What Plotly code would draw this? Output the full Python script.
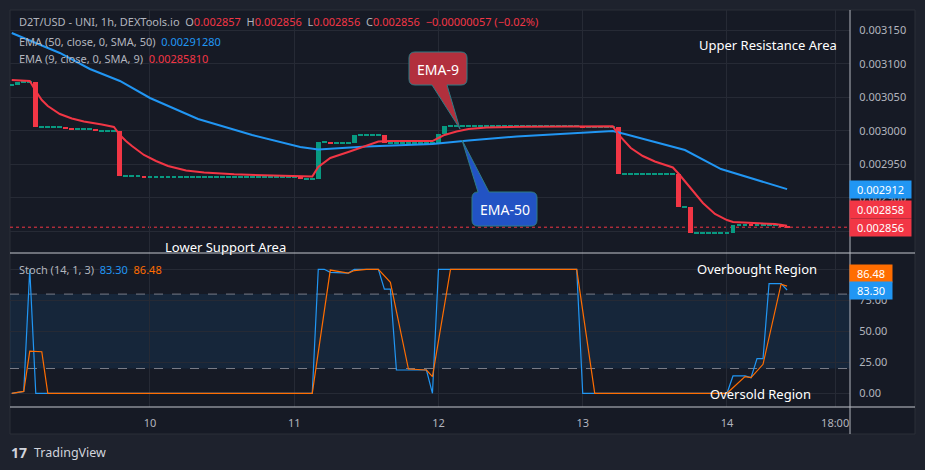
import plotly.graph_objects as go

# ---------------- data ----------------
# hour offsets are relative to day "10" 00:00, 1h candles
CANDLE_FIRST_HOUR = -23
FIRST_OPEN = 0.003068
CLOSE = [
    0.003068, 0.003073, 0.003073, 0.003073, 0.003005, 0.003005, 0.003005, 0.003005, 0.003005, 0.003003, 0.003002, 0.003002,  # -23..-12
    0.003002, 0.003002, 0.002999, 0.002999, 0.002999, 0.002999, 0.002932, 0.002932, 0.002932, 0.002932, 0.002931, 0.002931,  # -11..0
    0.002931, 0.002931, 0.002931, 0.002931, 0.002931, 0.002931, 0.002931, 0.002931, 0.002931, 0.002931, 0.002931, 0.002931,  # 1..12
    0.002931, 0.002931, 0.002931, 0.002931, 0.002931, 0.002931, 0.002931, 0.002931, 0.002931, 0.002931, 0.002931, 0.002931,  # 13..24
    0.002928, 0.002928, 0.002928, 0.002983, 0.002983, 0.002981, 0.002981, 0.002981, 0.002981, 0.002994, 0.002994, 0.002994,  # 25..36
    0.002994, 0.002994, 0.002981, 0.002981, 0.002981, 0.002981, 0.002981, 0.002981, 0.002981, 0.002981, 0.002981, 0.002995,  # 37..48
    0.003007, 0.003007, 0.003007, 0.003007, 0.003007, 0.003007, 0.003007, 0.003007, 0.003007, 0.003007, 0.003007, 0.003007,  # 49..60
    0.003007, 0.003007, 0.003007, 0.003007, 0.003007, 0.003007, 0.003007, 0.003007, 0.003007, 0.003007, 0.003007, 0.003005,  # 61..72
    0.003005, 0.003005, 0.003005, 0.003005, 0.003005, 0.002935, 0.002935, 0.002935, 0.002935, 0.002935, 0.002935, 0.002935,  # 73..84
    0.002935, 0.002935, 0.002935, 0.002886, 0.002886, 0.002847, 0.002847, 0.002847, 0.002847, 0.002847, 0.002847, 0.002847,  # 85..96
    0.002860, 0.002860, 0.002860, 0.002859, 0.002859, 0.002859, 0.002859, 0.002859, 0.002857, 0.002856,                      # 97..106
]

EMA9_H = [-23, -20, -19, -18, -17, -15, -13, -11, -8, -6, -5, -4, -3, -1, 1, 3, 6, 9, 14, 19, 25, 27,
          28, 30, 33, 36, 38, 40, 47, 48, 49, 51, 53, 56, 62, 77, 78, 80, 82, 84, 87, 88, 89, 90, 92, 94,
          96, 97, 100, 104, 106]
EMA9_V = [0.0030757, 0.0030742, 0.0030593, 0.0030458, 0.0030369, 0.0030249, 0.0030182, 0.0030137,
          0.0030093, 0.0030055, 0.0029936, 0.0029846, 0.0029772, 0.0029637, 0.0029548, 0.0029473,
          0.0029406, 0.0029376, 0.0029349, 0.0029339, 0.0029327, 0.0029316,
          0.0029458, 0.0029593, 0.0029682, 0.0029772, 0.0029839, 0.0029846, 0.0029846, 0.0029891,
          0.0029936, 0.0029988, 0.0030025, 0.0030048, 0.0030058, 0.0030067, 0.0029936, 0.0029742,
          0.0029622, 0.0029540, 0.0029451, 0.0029354, 0.0029249, 0.0029145, 0.0028921, 0.0028757,
          0.0028667, 0.0028637, 0.0028622, 0.0028607, 0.0028581]

EMA50_H = [-23, -19, -15, -10, -5, 0, 8, 17, 25, 28, 36, 47, 53, 61, 72, 77, 79, 86, 89, 95, 106]
EMA50_V = [0.0031458, 0.0031309, 0.0031160, 0.0030921, 0.0030742, 0.0030488, 0.0030175, 0.0029936,
           0.0029757, 0.0029720, 0.0029764, 0.0029801, 0.0029854, 0.0029913, 0.0029973, 0.0029996,
           0.0029951, 0.0029787, 0.0029712, 0.0029428, 0.0029128]

STOCH_K_H = [-23, -21, -20, -19, 27, 28, 29, 30, 33, 34, 38, 39, 40, 41, 46, 47, 48, 71, 72,
             96, 97, 99, 100, 101, 102, 103, 105, 106]
STOCH_K_V = [0, 1.5, 100, 0, 0, 100, 100, 97.5, 97, 100, 100, 84, 84, 18.8, 18.8, 0, 100, 100, 0,
             0, 14, 14, 12.6, 28, 28, 88.4, 88.4, 83.30]
STOCH_D_H = [-23, -21, -20, -18, -17, 27, 30, 33, 34, 36, 38, 40, 43, 46, 47, 50, 71, 74,
             96, 99, 100, 102, 105, 106]
STOCH_D_V = [0, 1.5, 34, 33.5, 0, 0, 99.4, 97, 99, 100, 100, 89.5, 19.6, 18.8, 13.4, 100, 100, 0,
             0, 13.4, 12.6, 23.4, 88, 86.48]

X_TICK_H = [0, 24, 48, 72, 96, 114]
X_TICK_TEXT = ["10", "11", "12", "13", "14", "18:00"]
PRICE_TICKS = [0.00285, 0.00290, 0.00295, 0.00300, 0.00305, 0.00310, 0.00315]
PRICE_TICK_TEXT = ["", "0.002900", "0.002950", "0.003000", "0.003050", "0.003100", "0.003150"]  # 0.002850 hidden by tags
STOCH_TICKS = [0, 25, 50, 75, 100]
STOCH_TICK_TEXT = ["0.00", "25.00", "50.00", "75.00", ""]  # 100.00 hidden by tag
STOCH_BANDS = [20, 80]
LAST_PRICE = 0.002856
PREV_TAG = 0.002858
EMA50_LAST = 0.0029128
EMA50_TAG = "0.002912"
K_LAST = 83.30
D_LAST = 86.48

# ---------------- styling / geometry ----------------
W, H = 925, 470
ML, MR, MT, MB = 10, 75, 10, 63
PW, PH = W - ML - MR, H - MT - MB
SPLIT = (H - MB - 253) / PH
X_RANGE = [-23.29, 116.47]
Y_RANGE = [0.0028175, 0.0031801]
Y2_RANGE = [-11.05, 113.15]

BG_OUT = "#1e222d"
BG_IN = "#161a25"
GRID = "#262a35"
TXT = "#b2b5be"
GREEN = "#089981"
RED = "#f23645"
BLUE = "#2196f3"
ORANGE = "#ff6d00"
FONT = "Noto Sans, sans-serif"


def pxx(px):
    return (px - ML) / PW


def pyy(py):
    return (H - MB - py) / PH


def dx(px):  # pixel x -> hour value
    return X_RANGE[0] + (px - ML) / PW * (X_RANGE[1] - X_RANGE[0])


def dy(py):  # pixel y -> price value (top pane spans px 10..253)
    return Y_RANGE[1] - (py - 10) / 243 * (Y_RANGE[1] - Y_RANGE[0])


fig = go.Figure()

# candles as bars
hours = [CANDLE_FIRST_HOUR + i for i in range(len(CLOSE))]
opens = [FIRST_OPEN] + CLOSE[:-1]
DOJI = 1.7e-6
bases, heights, colors = [], [], []
for o, c in zip(opens, CLOSE):
    lo, hi = min(o, c), max(o, c)
    if hi - lo < DOJI:
        mid = (hi + lo) / 2
        lo, hi = mid - DOJI / 2, mid + DOJI / 2
    bases.append(lo)
    heights.append(hi - lo)
    colors.append(GREEN if c >= o else RED)
fig.add_trace(go.Bar(x=hours, y=heights, base=bases, width=0.82, marker=dict(color=colors, line=dict(width=0)),
                     xaxis="x", yaxis="y", hoverinfo="skip", showlegend=False))

fig.add_trace(go.Scatter(x=EMA50_H, y=EMA50_V, mode="lines", line=dict(color=BLUE, width=2),
                         xaxis="x", yaxis="y", showlegend=False))
fig.add_trace(go.Scatter(x=EMA9_H, y=EMA9_V, mode="lines", line=dict(color=RED, width=2),
                         xaxis="x", yaxis="y", showlegend=False))

fig.add_trace(go.Scatter(x=STOCH_K_H, y=STOCH_K_V, mode="lines", line=dict(color=BLUE, width=1.2),
                         xaxis="x2", yaxis="y2", showlegend=False))
fig.add_trace(go.Scatter(x=STOCH_D_H, y=STOCH_D_V, mode="lines", line=dict(color=ORANGE, width=1.2),
                         xaxis="x2", yaxis="y2", showlegend=False))

shapes = [
    dict(type="rect", xref="paper", yref="paper", x0=pxx(10), x1=pxx(915), y0=pyy(434), y1=pyy(10),
         fillcolor=BG_IN, line=dict(color="#2a2e39", width=1), layer="below"),
    dict(type="rect", xref="paper", yref="y2", x0=0, x1=1, y0=STOCH_BANDS[0], y1=STOCH_BANDS[1],
         fillcolor="rgba(33,150,243,0.10)", line=dict(width=0), layer="below"),
]
for b in STOCH_BANDS:
    shapes.append(dict(type="line", xref="paper", yref="y2", x0=0, x1=1, y0=b, y1=b,
                       line=dict(color="#787b86", width=1, dash="dash"), layer="below"))
shapes.append(dict(type="line", xref="paper", yref="y", x0=0, x1=1, y0=LAST_PRICE, y1=LAST_PRICE,
                   line=dict(color=RED, width=1, dash="dot"), layer="below"))
# pane separators
for py in (253, 407):
    shapes.append(dict(type="line", xref="paper", yref="paper", x0=pxx(10), x1=pxx(915), y0=pyy(py), y1=pyy(py),
                       line=dict(color="#c3c6ce", width=1)))
shapes.append(dict(type="line", xref="paper", yref="paper", x0=1, x1=1, y0=pyy(434), y1=pyy(10),
                   line=dict(color="#b2b5be", width=1)))


def fmt(v):
    return f"{v:.10g}"


def callout(l, r, t, b, tail_side, base_a, base_b, tip, rad=6):
    P = lambda px, py: f"{fmt(dx(px))},{fmt(dy(py))}"
    s = f"M{P(l + rad, t)}"
    if tail_side == "top":
        s += f" L{P(base_a, t)} L{P(*tip)} L{P(base_b, t)}"
    s += f" L{P(r - rad, t)} Q{P(r, t)} {P(r, t + rad)} L{P(r, b - rad)} Q{P(r, b)} {P(r - rad, b)}"
    if tail_side == "bottom":
        s += f" L{P(base_b, b)} L{P(*tip)} L{P(base_a, b)}"
    s += f" L{P(l + rad, b)} Q{P(l, b)} {P(l, b - rad)} L{P(l, t + rad)} Q{P(l, t)} {P(l + rad, t)} Z"
    return s


shapes.append(dict(type="path", xref="x", yref="y", path=callout(409, 467, 52, 85, "bottom", 432, 447, (460, 129)),
                   fillcolor="#b2303d", line=dict(color="#2f7d86", width=1)))
shapes.append(dict(type="path", xref="x", yref="y", path=callout(472, 537, 192, 226, "top", 478, 489, (462, 140)),
                   fillcolor="#2253c4", line=dict(color="#2f7d86", width=1)))

ann = []


def text(px, py, s, size=11, color=TXT, xanchor="left"):
    ann.append(dict(xref="paper", yref="paper", x=pxx(px), y=pyy(py), text=s, showarrow=False,
                    xanchor=xanchor, yanchor="middle", font=dict(family=FONT, size=size, color=color)))


def red(s):
    return f"<span style='color:{RED}'>{s}</span>"


text(17, 22, "D2T/USD - UNI, 1h, DEXTools.io  O" + red("0.002857") + "  H" + red("0.002856") + "  L" + red("0.002856")
     + "  C" + red("0.002856") + "  " + red("−0.00000057 (−0.02%)"))
text(17, 42, "EMA (50, close, 0, SMA, 50)  " + f"<span style='color:{BLUE}'>{EMA50_LAST:.8f}</span>")
text(17, 59, "EMA (9, close, 0, SMA, 9)  " + red("0.00285810"))
text(17, 269, "Stoch (14, 1, 3)  " + f"<span style='color:{BLUE}'>{K_LAST:.2f}</span>  "
     + f"<span style='color:{ORANGE}'>{D_LAST:.2f}</span>")

text(768, 45, "Upper Resistance Area", 13, "#ffffff", "center")
text(226, 247, "Lower Support Area", 13, "#ffffff", "center")
text(757, 269, "Overbought Region", 13, "#ffffff", "center")
text(760, 394, "Oversold Region", 13, "#ffffff", "center")
text(438, 69, "EMA-9", 14, "#ffffff", "center")
text(504.5, 209.5, "EMA-50", 14, "#ffffff", "center")

text(9, 452, "<b>17</b>", 14, "#d1d4dc")
text(32, 452, "TradingView", 12.5, "#d1d4dc")


def tag(yref, val, label, color, w, yshift=0):
    ann.append(dict(xref="paper", yref=yref, x=1, y=val, xanchor="left", yanchor="middle", xshift=-1,
                    yshift=yshift, text=label, showarrow=False, bgcolor=color, width=w, height=17,
                    borderpad=0, align="center", font=dict(family=FONT, size=11, color="#ffffff")))


tag("y", EMA50_LAST, EMA50_TAG, BLUE, 61)
tag("y", PREV_TAG, f"{PREV_TAG:.6f}", RED, 61, 16)
tag("y", LAST_PRICE, f"{LAST_PRICE:.6f}", RED, 61)
tag("y2", D_LAST, f"{D_LAST:.2f}", ORANGE, 42, 13)
tag("y2", K_LAST, f"{K_LAST:.2f}", BLUE, 42)

axis_font = dict(family=FONT, size=11, color=TXT)
fig.update_layout(
    width=W, height=H, margin=dict(l=ML, r=MR, t=MT, b=MB),
    paper_bgcolor=BG_OUT, plot_bgcolor="rgba(0,0,0,0)",
    showlegend=False, bargap=0,
    shapes=shapes, annotations=ann,
    xaxis=dict(domain=[0, 1], anchor="y", range=X_RANGE, matches="x2", tickvals=X_TICK_H,
               showticklabels=False, showgrid=True, gridcolor=GRID, zeroline=False, showline=False),
    yaxis=dict(domain=[SPLIT, 1], anchor="x", side="right", range=Y_RANGE, tickvals=PRICE_TICKS,
               ticktext=PRICE_TICK_TEXT, tickfont=axis_font, ticks="outside", ticklen=6,
               tickcolor="rgba(0,0,0,0)", showgrid=True, gridcolor=GRID, zeroline=False, showline=False),
    xaxis2=dict(domain=[0, 1], anchor="y2", range=X_RANGE, tickvals=X_TICK_H, ticktext=X_TICK_TEXT,
                tickfont=axis_font, ticks="outside", ticklen=6, tickcolor="rgba(0,0,0,0)",
                showgrid=True, gridcolor=GRID, zeroline=False, showline=False),
    yaxis2=dict(domain=[0, SPLIT], anchor="x2", side="right", range=Y2_RANGE, tickvals=STOCH_TICKS,
                ticktext=STOCH_TICK_TEXT, tickfont=axis_font, ticks="outside", ticklen=6,
                tickcolor="rgba(0,0,0,0)", showgrid=True, gridcolor=GRID, zeroline=False, showline=False),
)

fig.write_html("out.html")
